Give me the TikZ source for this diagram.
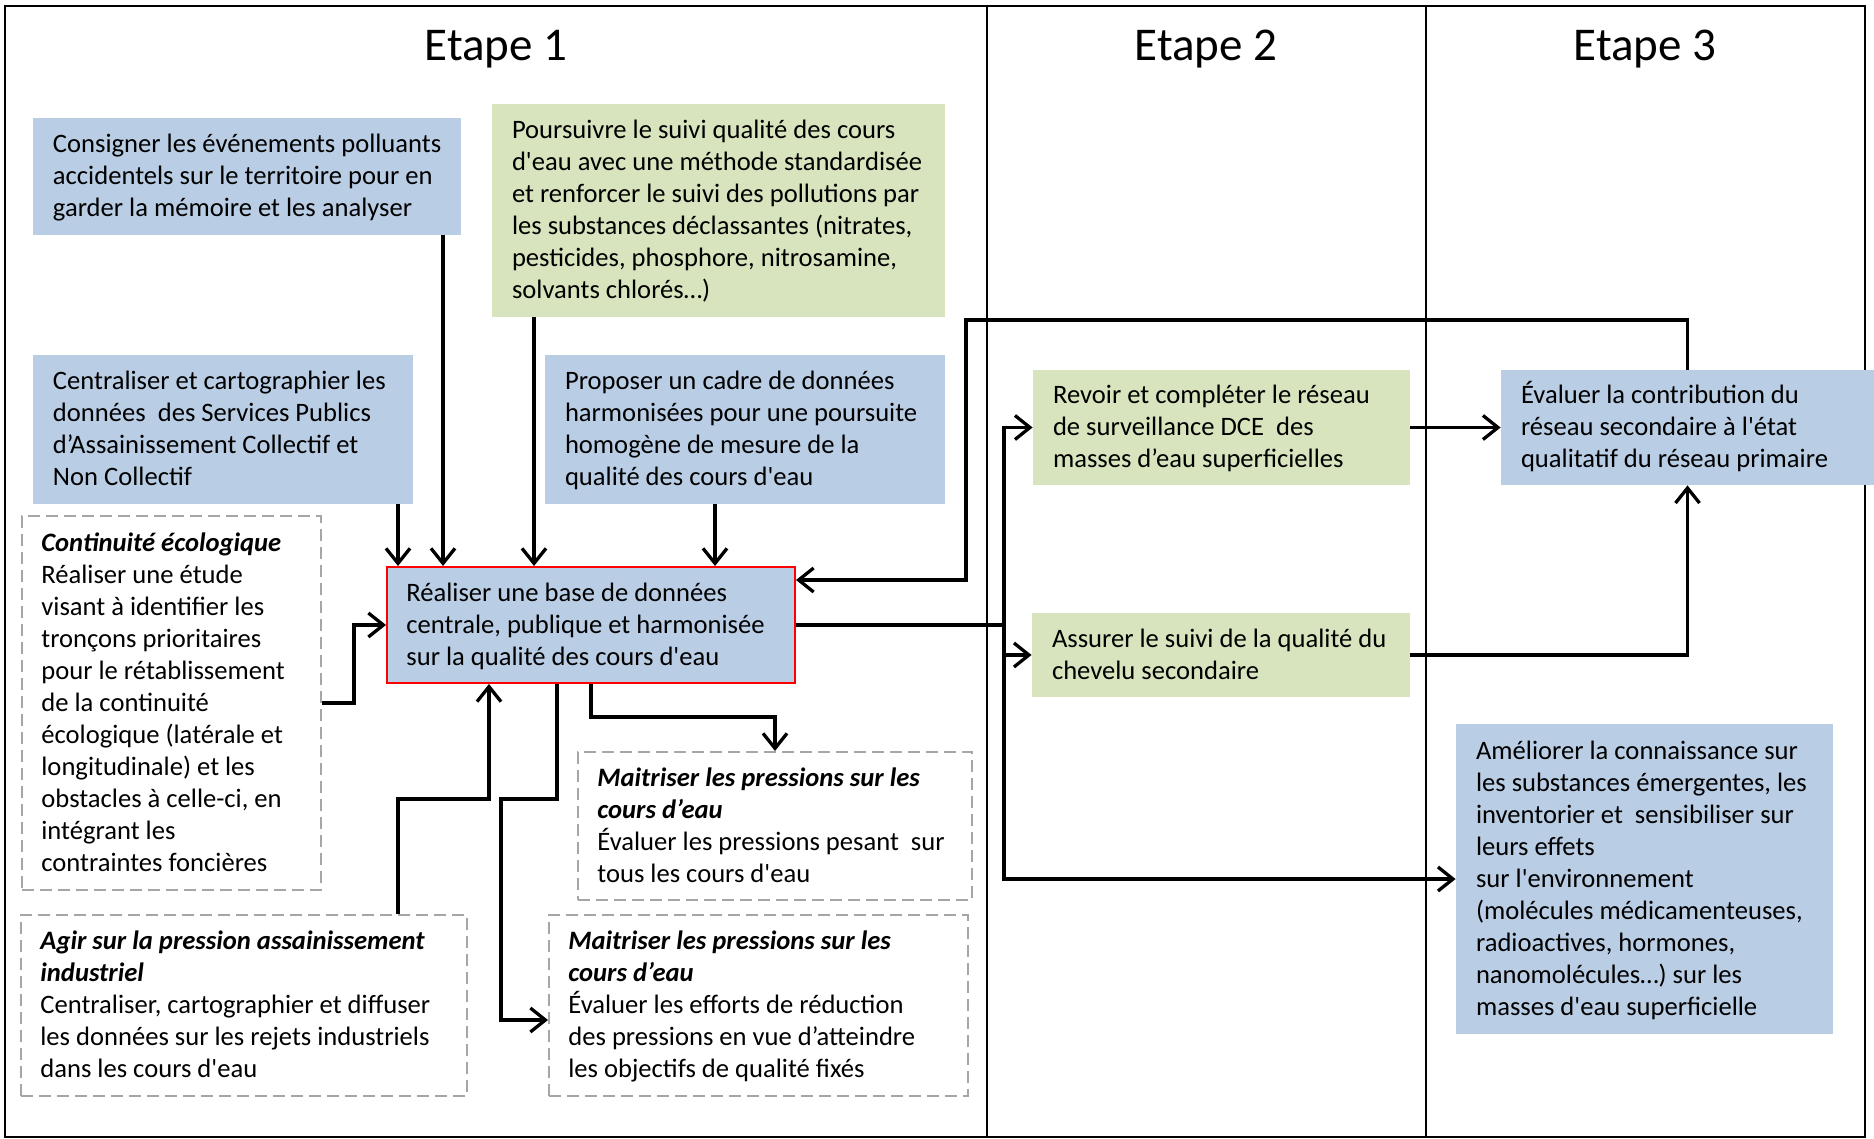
\documentclass[tikz,border=0pt]{standalone}
\usepackage{fontspec}
\newfontfamily\carl{Carlito}
\usetikzlibrary{arrows.meta,fit}
\definecolor{bluef}{HTML}{B9CDE5}
\definecolor{greenf}{HTML}{D7E4BD}
\definecolor{dashg}{HTML}{A6A6A6}
\newcommand\st{\rule[-4pt]{0pt}{16pt}}
\newcommand\tb[5]{%
  \node[#2, fit={#3 #4}] (#1) {};
  \node[txt] (#1t) at ([xshift=10pt]#1.west) {\st#5\st};}
\begin{document}
\begin{tikzpicture}[x=0.5pt,y=-0.5pt,
  bx/.style={inner sep=0pt, draw=none},
  bluebox/.style={bx, fill=bluef},
  greenbox/.style={bx, fill=greenf},
  dbox/.style={bx, draw=dashg, line width=1pt, dash pattern=on 6pt off 3pt},
  redbox/.style={bx, fill=bluef, draw=red, line width=1pt},
  txt/.style={font=\carl\fontsize{13.3pt}{16pt}\selectfont, align=left, inner sep=0pt, anchor=west},
  ttl/.style={font=\carl\fontsize{23.5pt}{28pt}\selectfont, anchor=base, inner sep=0pt},
  conn/.style={line width=1.65pt},
  arr/.style={conn, -{Straight Barb[length=7.5pt,width=12pt]}},
  frm/.style={line width=1.4pt},
  dvd/.style={line width=1.1pt}]
\useasboundingbox (0,0) rectangle (1874,1139);
\fill[white] (0,0) rectangle (1874,1139);
% frame and columns
\draw[frm] (5,6) rectangle (1865,1137);
\draw[dvd] (987,6) -- (987,1137);
\draw[dvd] (1426,6) -- (1426,1137);
\node[ttl] (t1) at (496,61) {Etape 1};
\node[ttl] (t2) at (1206,61) {Etape 2};
\node[ttl] (t3) at (1645,61) {Etape 3};
% boxes
\tb{cons}{bluebox}{(33,118)}{(461,235)}{Consigner les événements polluants\\accidentels sur le territoire pour en\\garder la mémoire et les analyser}
\tb{pours}{greenbox}{(492,104)}{(945,317)}{Poursuivre le suivi qualité des cours\\d'eau avec une méthode standardisée\\et renforcer le suivi des pollutions par\\les substances déclassantes (nitrates,\\pesticides, phosphore, nitrosamine,\\solvants chlorés…)}
\tb{cent}{bluebox}{(33,355)}{(413,504)}{Centraliser et cartographier les\\données\ \ des Services Publics\\d’Assainissement Collectif et\\Non Collectif}
\tb{prop}{bluebox}{(545,355)}{(945,504)}{Proposer un cadre de données\\harmonisées pour une poursuite\\homogène de mesure de la\\qualité des cours d'eau}
\tb{cont}{dbox}{(22,516)}{(321,890)}{\textbf{\textit{Continuité écologique}}\\Réaliser une étude\\visant à identifier les\\tronçons prioritaires\\pour le rétablissement\\de la continuité\\écologique (latérale et\\longitudinale) et les\\obstacles à celle-ci, en\\intégrant les\\contraintes foncières}
\tb{real}{redbox}{(387,567)}{(795,683)}{Réaliser une base de données\\centrale, publique et harmonisée\\sur la qualité des cours d'eau}
\tb{maita}{dbox}{(578,752)}{(972,900)}{\textbf{\textit{Maitriser les pressions sur les}}\\\textbf{\textit{cours d’eau}}\\Évaluer les pressions pesant\ \ sur\\tous les cours d'eau}
\tb{agir}{dbox}{(21,915)}{(467,1096)}{\textbf{\textit{Agir sur la pression assainissement}}\\\textbf{\textit{industriel}}\\Centraliser, cartographier et diffuser\\les données sur les rejets industriels\\dans les cours d'eau}
\tb{maitb}{dbox}{(549,915)}{(968,1096)}{\textbf{\textit{Maitriser les pressions sur les}}\\\textbf{\textit{cours d’eau}}\\Évaluer les efforts de réduction\\des pressions en vue d’atteindre\\les objectifs de qualité fixés}
\tb{revoir}{greenbox}{(1033,370)}{(1410,485)}{Revoir et compléter le réseau\\de surveillance DCE\ \ des\\masses d’eau superficielles}
\tb{assurer}{greenbox}{(1032,613)}{(1410,697)}{Assurer le suivi de la qualité du\\chevelu secondaire}
\tb{evaluer}{bluebox}{(1501,370)}{(1874,485)}{Évaluer la contribution du\\réseau secondaire à l'état\\qualitatif du réseau primaire}
\tb{amel}{bluebox}{(1456,724)}{(1833,1034)}{Améliorer la connaissance sur\\les substances émergentes, les\\inventorier et\ \ sensibiliser sur\\leurs effets\\sur l'environnement\\(molécules médicamenteuses,\\radioactives, hormones,\\nanomolécules…) sur les\\masses d'eau superficielle}
% helper coordinates
\coordinate (xa) at (443,0);
\coordinate (xb) at (398,0);
\coordinate (xc) at (534,0);
\coordinate (xd) at (715,0);
\coordinate (a1) at (398,799);
\coordinate (a2) at (489,799);
\coordinate (b1) at (557,799);
\coordinate (b2) at (501,799);
\coordinate (b3) at (501,1020);
\coordinate (d1) at (775,717);
\coordinate (jx) at (1004,0);
\coordinate (e2) at (966,320);
\coordinate (e3) at (966,580);
% connectors
\draw[arr] (cons.south -| xa) -- (real.north -| xa);
\draw[arr] (cent.south -| xb) -- (real.north -| xb);
\draw[arr] (pours.south -| xc) -- (real.north -| xc);
\draw[arr] (prop.south -| xd) -- (real.north -| xd);
\draw[arr] (cont.east) -| ([xshift=-16pt]real.west) -- (real.west);
\draw[arr] (agir.north -| a1) -- (a1) -- (a2) -- (real.south -| a2);
\draw[arr] (real.south -| b1) -- (b1) -- (b2) -- (b3) -- (maitb.west |- b3);
\draw[arr] (real.south) |- (d1) -- (maita.north);
\draw[conn] (real.east) -- (real.east -| jx);
\draw[arr] (real.east -| jx) |- (revoir.west);
\draw[arr] (real.east -| jx) |- (amel.west);
\draw[arr] (assurer.west -| jx) -- (assurer.west);
\draw[arr] (evaluer.north) |- (e2) -- (e3) -- (real.east |- e3);
\draw[arr] (revoir.east) -- (evaluer.west);
\draw[arr] (assurer.east) -| (evaluer.south);
\end{tikzpicture}
\end{document}
